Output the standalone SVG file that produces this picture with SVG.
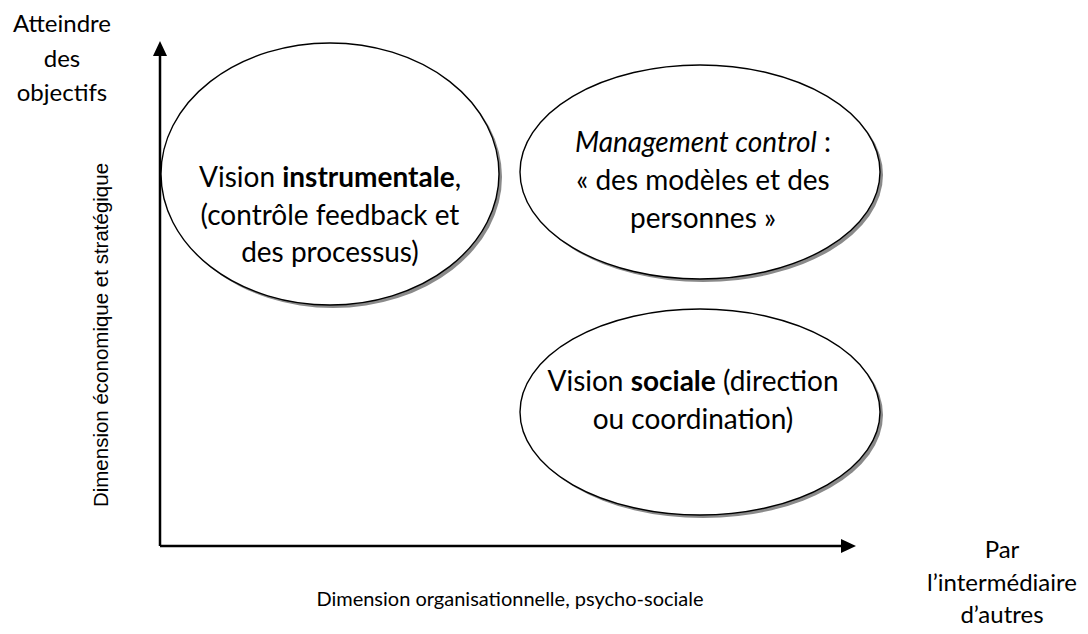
<svg xmlns="http://www.w3.org/2000/svg" width="1088" height="634" viewBox="0 0 1088 634">
<style>
.t{font-family:Lato,"Open Sans",sans-serif;fill:#000}
.el{font-size:28px;text-anchor:middle}
.lab{font-size:24px;text-anchor:middle}
.shadow{fill:#8a8a8a}
.oval{fill:#fff;stroke:#000;stroke-width:1.4}
.axis{stroke:#000;stroke-width:2.5;fill:none}
</style>
<rect width="1088" height="634" fill="#fff"/>
<g id="connectors">
<path class="axis" d="M160,546 V50"/>
<path class="axis" d="M160,546 H845"/>
<path d="M160,41 L153,56 L167,56 z" fill="#000"/>
<path d="M856,546 L841,539 L841,553 z" fill="#000"/>
</g>
<g id="vision-instrumentale">
<ellipse class="shadow" cx="333" cy="177" rx="169" ry="131"/>
<ellipse class="oval" cx="330" cy="174" rx="169" ry="131"/>
<text class="t el" x="330" y="187">Vision <tspan font-weight="bold">instrumentale</tspan>,</text>
<text class="t el" x="330" y="225">(contrôle feedback et</text>
<text class="t el" x="330" y="262">des processus)</text>
</g>
<g id="management-control">
<ellipse class="shadow" cx="703" cy="175" rx="180" ry="107"/>
<ellipse class="oval" cx="700" cy="172" rx="180" ry="107"/>
<text class="t el" x="703" y="152"><tspan font-style="italic">Management control</tspan> :</text>
<text class="t el" x="703" y="190">« des modèles et des</text>
<text class="t el" x="703" y="228">personnes »</text>
</g>
<g id="vision-sociale">
<ellipse class="shadow" cx="703" cy="415" rx="180" ry="103"/>
<ellipse class="oval" cx="700" cy="412" rx="180" ry="103"/>
<text class="t el" x="693" y="391">Vision <tspan font-weight="bold">sociale</tspan> (direction</text>
<text class="t el" x="693" y="429">ou coordination)</text>
</g>
<g id="label-y">
<text class="t lab" x="62" y="32">Atteindre</text>
<text class="t lab" x="62" y="67">des</text>
<text class="t lab" x="62" y="101">objectifs</text>
</g>
<g id="label-x">
<text class="t lab" x="1002" y="558">Par</text>
<text class="t lab" x="1002" y="591">l’intermédiaire</text>
<text class="t lab" x="1002" y="623">d’autres</text>
</g>
<g id="axis-y-title">
<text font-family="'Liberation Sans',Arial,sans-serif" font-size="20.5" text-anchor="middle" transform="translate(108,335) rotate(-90)">Dimension économique et stratégique</text>
</g>
<g id="axis-x-title">
<text class="t" font-size="20" text-anchor="middle" x="510" y="606">Dimension organisationnelle, psycho-sociale</text>
</g>
</svg>
